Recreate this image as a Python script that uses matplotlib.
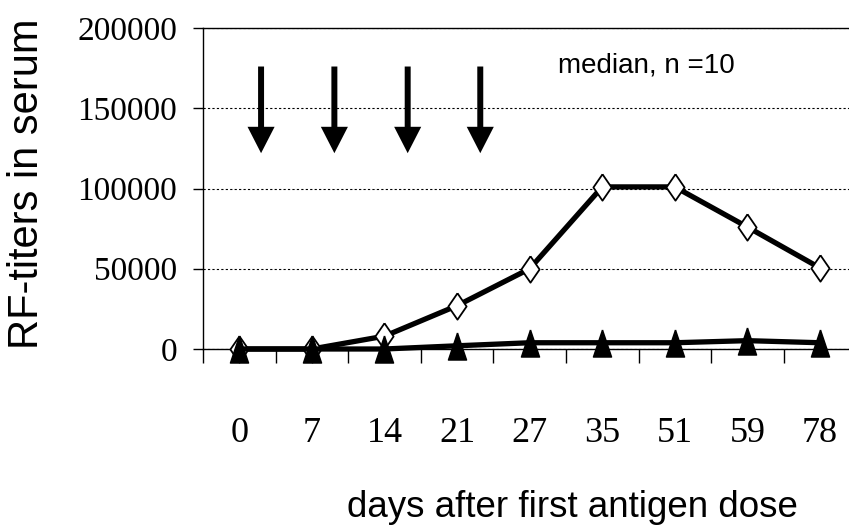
import numpy as np
import matplotlib.pyplot as plt
from matplotlib.ticker import FixedLocator


# days after first antigen dose (categorical axis)
days = ['0', '7', '14', '21', '27', '35', '51', '59', '78']

# median RF-titers, open diamonds
rf_open = [0, 0, 8000, 27000, 50000, 101000, 101000, 76000, 50500]
# median RF-titers, filled triangles
rf_filled = [0, 0, 0, 2000, 3900, 3900, 3900, 5200, 3900]

# antigen doses (arrows), position between categories
dose_x = [0.3, 1.31, 2.32, 3.32]
arrow_top = 176000
arrow_tip = 122000

yticks = [0, 50000, 100000, 150000, 200000]


# tall narrow marker shapes as in the original
diamond = [(0, 1), (0.69, 0), (0, -1), (-0.69, 0), (0, 1)]
triangle = [(0, 1), (0.67, -1), (-0.67, -1), (0, 1)]

fig = plt.figure(figsize=(8.49, 5.29), dpi=100)
ax = fig.add_axes([203 / 849, 180 / 529, 646 / 849, 321 / 529])

x = np.arange(len(days))

ax.plot(x, rf_open, color='black', linewidth=3.8, marker=diamond,
        markersize=19, markerfacecolor='white', markeredgecolor='black',
        markeredgewidth=1.3, clip_on=False, zorder=3)
ax.plot(x, rf_filled, color='black', linewidth=3.8, marker=triangle,
        markersize=19.5, markerfacecolor='black', markeredgecolor='black',
        clip_on=False, zorder=4)

# antigen doses
for dx in dose_x:
    ax.annotate('', xy=(dx, arrow_tip), xytext=(dx, arrow_top),
                arrowprops=dict(arrowstyle='simple,head_length=19,head_width=19.5,tail_width=4.3',
                                mutation_scale=1, lw=0, fc='black',
                                shrinkA=0, shrinkB=0))

fig.text(558 / 849, (529 - 73) / 529, 'median, n =10', fontsize=20,
         family='Liberation Sans', ha='left', va='baseline')

ax.set_xlim(-0.5, 8.4)
ax.set_ylim(0, 200000)

# x axis: labels at categories, tick marks between them
ax.set_xticks(x)
ax.set_xticklabels(days, family='Liberation Serif', fontsize=26)
ax.xaxis.set_minor_locator(FixedLocator(np.arange(-0.5, 8, 1)))
ax.tick_params(axis='x', which='major', length=0, pad=49)
ax.tick_params(axis='x', which='minor', length=10, width=1, direction='out')

ax.set_yticks(yticks)
ax.set_yticklabels([str(v) for v in yticks], family='Liberation Serif', fontsize=24)
ax.tick_params(axis='y', length=7, width=1, direction='out', pad=11.5)

ax.yaxis.grid(True, linestyle=(0, (2, 2)), linewidth=0.8, color='black')
ax.set_axisbelow(True)

ax.spines['right'].set_visible(False)
for s in ['left', 'bottom', 'top']:
    ax.spines[s].set_linewidth(1)

fig.text(27 / 849, (529 - 184) / 529, 'RF-titers in serum', fontsize=30,
         family='Liberation Sans', rotation=90, ha='center', va='center')
fig.text(572 / 849, 12 / 529, 'days after first antigen dose', fontsize=26.5,
         family='Liberation Sans', ha='center', va='baseline')

plt.savefig('out.png', dpi=100)
